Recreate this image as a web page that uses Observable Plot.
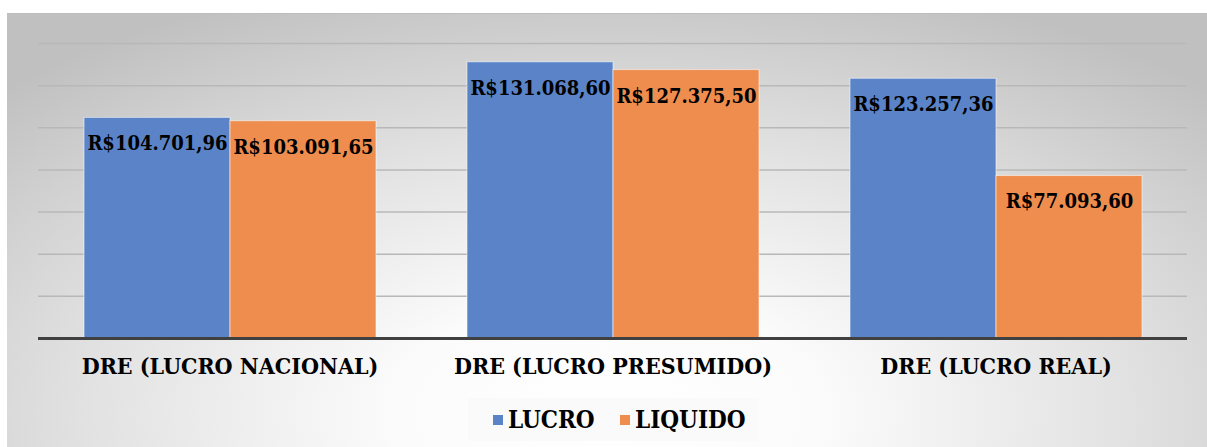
<!DOCTYPE html>
<html>
<head>
<meta charset="utf-8">
<script src="https://cdn.jsdelivr.net/npm/d3@7"></script>
<script src="https://cdn.jsdelivr.net/npm/@observablehq/plot@0.6"></script>
<style>
  html, body { margin: 0; padding: 0; background: #ffffff; }
  #wrap { position: relative; width: 1207px; height: 447px; overflow: hidden; background: #fff;
    font-family: "DejaVu Serif Condensed", "DejaVu Serif"; font-stretch: condensed; }
  #panel { position: absolute; left: 7px; top: 13px; width: 1200px; height: 434px;
    border-top: 1px solid #bdbdbd;
    background: radial-gradient(ellipse 72% 105% at 50% 92%, #ffffff 0%, #fbfbfb 25%, #e2e2e2 60%, #c0c0c0 100%); }
  #chart { position: absolute; left: 0; top: 0; }
  #chart svg { background: transparent; overflow: visible; }
  #chart svg text { font-family: "DejaVu Serif Condensed", "DejaVu Serif"; font-stretch: condensed; }
  #legend { position: absolute; left: 468px; top: 398px; width: 290px; height: 43px; background: rgba(250,250,250,0.9);
    font-weight: bold; font-size: 24px; color: #000; }
  .item { position: absolute; top: 0; height: 43px; display: flex; align-items: center; }
  .sw { display: inline-block; width: 10px; height: 10px; margin-right: 5px; }
</style>
</head>
<body>
<div id="wrap">
  <div id="panel"></div>
  <div id="chart"></div>
  <div id="legend"></div>
</div>
<script>
const categories = ["DRE (LUCRO NACIONAL)", "DRE (LUCRO PRESUMIDO)", "DRE (LUCRO REAL)"];
const seriesNames = ["LUCRO", "LIQUIDO"];
const lucroValues = [104701.96, 131068.60, 123257.36];
const liquidoValues = [103091.65, 127375.50, 77093.60];
const gridTicks = [20000, 40000, 60000, 80000, 100000, 120000, 140000];
const seriesColors = ["#5b84c8", "#ee8d4e"];

const data = [];
categories.forEach((c, i) => {
  data.push({category: c, series: seriesNames[0], value: lucroValues[i]});
  data.push({category: c, series: seriesNames[1], value: liquidoValues[i]});
});

const locale = d3.formatLocale({decimal: ",", thousands: ".", grouping: [3], currency: ["R$", ""]});
const fmt = locale.format("$,.2f");

const chart = Plot.plot({
  width: 1207,
  height: 390,
  marginTop: 43,
  marginBottom: 52,
  marginLeft: 37,
  marginRight: 19,
  style: {background: "transparent"},
  fx: {domain: categories, padding: 0, label: null, axis: null},
  x: {domain: seriesNames, paddingInner: 0, paddingOuter: 0.31, axis: null},
  y: {domain: [0, 140000], axis: null},
  color: {domain: seriesNames, range: seriesColors},
  marks: [
    Plot.ruleY(gridTicks, {stroke: "#b8b8b8", strokeWidth: 1.5}),
    Plot.barY(data, {fx: "category", x: "series", y: "value", fill: "series", stroke: "#ffffff", strokeOpacity: 0.55, strokeWidth: 1}),
    Plot.text(data, {fx: "category", x: "series", y: "value", text: d => fmt(d.value), dy: 26,
      fontSize: 20, fontWeight: "bold", fill: "#000"}),
    Plot.ruleY([0], {stroke: "#404040", strokeWidth: 3}),
    Plot.axisFx({anchor: "bottom", tickSize: 0, tickPadding: 19, fontSize: 23, fontWeight: "bold",
      fill: "#000", label: null})
  ]
});
document.getElementById("chart").appendChild(chart);

const legendLeft = [25, 152];
const legend = document.getElementById("legend");
legend.innerHTML = seriesNames.map((s, i) =>
  `<span class="item" style="left:${legendLeft[i]}px"><span class="sw" style="background:${seriesColors[i]}"></span>${s}</span>`
).join("");
</script>
</body>
</html>
